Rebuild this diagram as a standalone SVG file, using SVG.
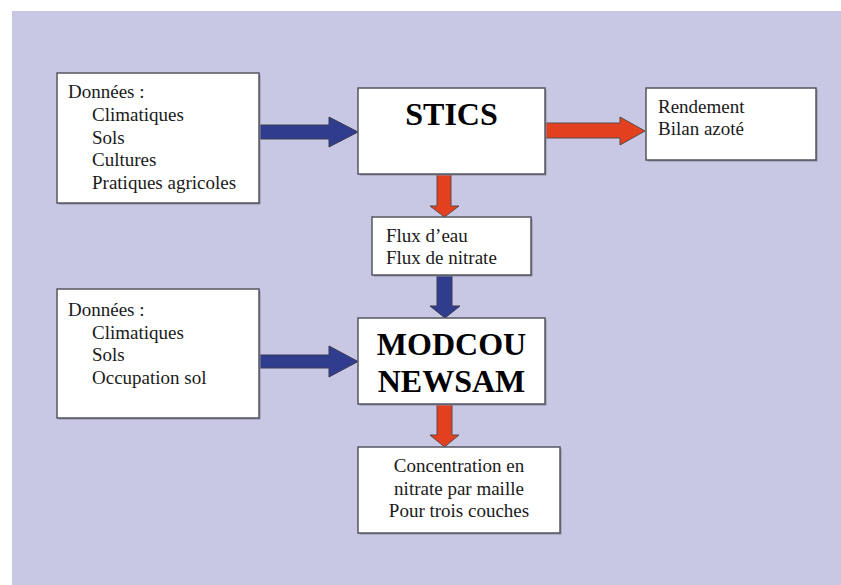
<svg xmlns="http://www.w3.org/2000/svg" width="841" height="585" viewBox="0 0 841 585">
  <style>
    .box { fill: #ffffff; stroke: #555560; stroke-width: 1.5; }
    .shadow { fill: #8c8ca0; }
    .txt { font-family: "Liberation Serif", "Times New Roman", serif; font-size: 19px; fill: #1a1a1a; }
    .title { font-family: "Liberation Serif", "Times New Roman", serif; font-size: 32px; font-weight: bold; fill: #000000; text-anchor: middle; }
    .blue { fill: #303c8e; stroke: #3a3a50; stroke-width: 1; stroke-linejoin: miter; }
    .red { fill: #e2401f; stroke: #5a4a4a; stroke-width: 1; stroke-linejoin: miter; }
  </style>

  <!-- page background -->
  <rect x="0" y="0" width="841" height="585" fill="#ffffff"/>
  <rect x="12" y="11" width="829" height="574" fill="#c8c8e4"/>

  <!-- block arrows -->
  <g id="connectors">
    <!-- inputs to STICS -->
    <path class="blue" d="M259,125 H329 V117 L358,132 L329,147 V139 H259 Z"/>
    <!-- STICS to outputs -->
    <path class="red" d="M545,123 H620 V117 L645,131 L620,145 V138 H545 Z"/>
    <!-- STICS to fluxes -->
    <path class="red" d="M437,174 V206 H430 L444.5,217 L459,206 H451 V174 Z"/>
    <!-- fluxes to MODCOU -->
    <path class="blue" d="M437,275 V306 H430 L445,318 L460,306 H452 V275 Z"/>
    <!-- inputs to MODCOU -->
    <path class="blue" d="M259,355 H329 V346 L358,361.5 L329,377 V368 H259 Z"/>
    <!-- MODCOU to concentration -->
    <path class="red" d="M437,404 V435 H430 L444.5,447 L459,435 H452 V404 Z"/>
  </g>

  <g id="donnees-stics">
    <rect class="shadow" x="58.5" y="74.5" width="202" height="130"/>
    <rect class="box" x="57" y="73" width="202" height="130"/>
    <text class="txt" x="68" y="98">Données :</text>
    <text class="txt" x="92" y="121">Climatiques</text>
    <text class="txt" x="92" y="143.5">Sols</text>
    <text class="txt" x="92" y="166">Cultures</text>
    <text class="txt" x="92" y="188.5">Pratiques agricoles</text>
  </g>

  <g id="stics">
    <rect class="shadow" x="359.5" y="89.5" width="187" height="86"/>
    <rect class="box" x="358" y="88" width="187" height="86"/>
    <text class="title" x="451.5" y="125">STICS</text>
  </g>

  <g id="rendement">
    <rect class="shadow" x="647.5" y="89.5" width="170" height="72"/>
    <rect class="box" x="646" y="88" width="170" height="72"/>
    <text class="txt" x="658" y="113">Rendement</text>
    <text class="txt" x="658" y="135">Bilan azoté</text>
  </g>

  <g id="flux">
    <rect class="shadow" x="373.5" y="218.5" width="159" height="58"/>
    <rect class="box" x="372" y="217" width="159" height="58"/>
    <text class="txt" x="386" y="242">Flux d’eau</text>
    <text class="txt" x="386" y="264">Flux de nitrate</text>
  </g>

  <g id="donnees-modcou">
    <rect class="shadow" x="58.5" y="290.5" width="202" height="129"/>
    <rect class="box" x="57" y="289" width="202" height="129"/>
    <text class="txt" x="68" y="316">Données :</text>
    <text class="txt" x="92" y="338.5">Climatiques</text>
    <text class="txt" x="92" y="361">Sols</text>
    <text class="txt" x="92" y="383.5">Occupation sol</text>
  </g>

  <g id="modcou">
    <rect class="shadow" x="359.5" y="319.5" width="187" height="86"/>
    <rect class="box" x="358" y="318" width="187" height="86"/>
    <text class="title" x="451.5" y="355">MODCOU</text>
    <text class="title" x="451.5" y="392">NEWSAM</text>
  </g>

  <g id="concentration">
    <rect class="shadow" x="359.5" y="448.5" width="202" height="86"/>
    <rect class="box" x="358" y="447" width="202" height="86"/>
    <text class="txt" x="459" y="472" text-anchor="middle">Concentration en</text>
    <text class="txt" x="459" y="494.5" text-anchor="middle">nitrate par maille</text>
    <text class="txt" x="459" y="517" text-anchor="middle">Pour trois couches</text>
  </g>
</svg>
